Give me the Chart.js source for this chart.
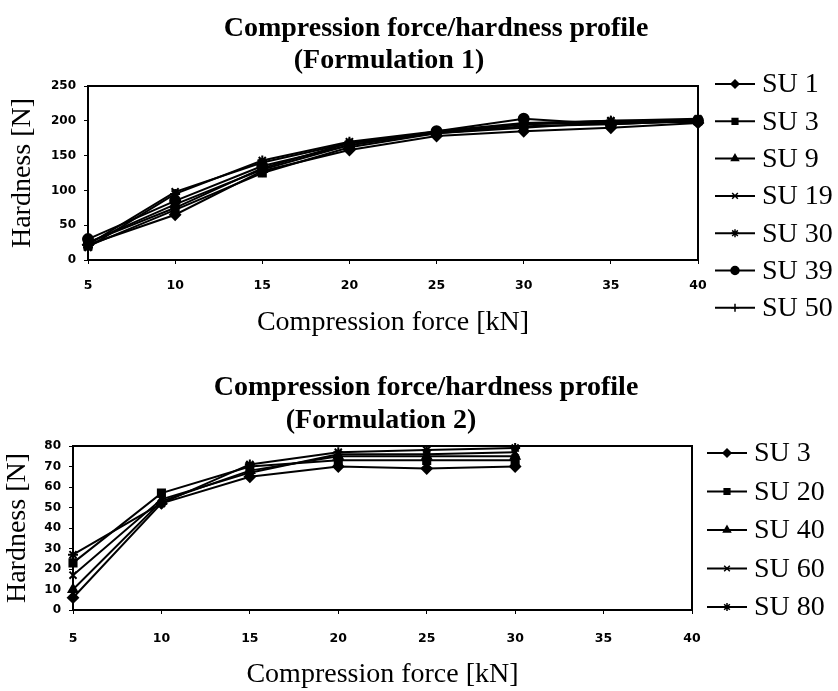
<!DOCTYPE html>
<html>
<head>
<meta charset="utf-8">
<script src="https://cdn.jsdelivr.net/npm/chart.js@4/dist/chart.umd.min.js"></script>
<style>
  body { margin: 0; background: #fff; }
  canvas { position: absolute; left: 0; }
  #form1 { top: 0; }
  #form2 { top: 345px; }
</style>
</head>
<body>
<canvas id="form1" width="838" height="345"></canvas>
<canvas id="form2" width="838" height="346"></canvas>
<script>
// compression force [kN]
var force1 = [5, 10, 15, 20, 25, 30, 35, 40];
var force2 = [5, 10, 15, 20, 25, 30];

// Formulation 1 hardness [N]
var su1  = [22, 65, 128, 158, 178, 185, 190, 197];
var su3  = [20, 72, 125, 162, 182, 192, 195, 200];
var su9  = [25, 80, 130, 165, 183, 195, 198, 202];
var su19 = [22, 98, 140, 168, 183, 195, 200, 200];
var su30 = [18, 95, 143, 170, 185, 197, 200, 203];
var su39 = [30, 85, 135, 165, 185, 203, 195, 200];
var su50 = [25, 75, 132, 168, 182, 190, 198, 198];

// Formulation 2 hardness [N]
var f2su3  = [6, 52, 65, 70, 69, 70];
var f2su20 = [23, 57, 70, 73, 73, 73];
var f2su40 = [10, 53, 68, 75, 75, 75];
var f2su60 = [17, 54, 67, 76, 76, 77];
var f2su80 = [27, 52, 71, 77, 78, 79];

var names1 = ['SU 1', 'SU 3', 'SU 9', 'SU 19', 'SU 30', 'SU 39', 'SU 50'];
var names2 = ['SU 3', 'SU 20', 'SU 40', 'SU 60', 'SU 80'];
var marks1 = ['rectRot', 'rect', 'triangle', 'crossRot', 'star', 'circle', 'cross'];
var marks2 = ['rectRot', 'rect', 'triangle', 'crossRot', 'star'];

var serif = '"Liberation Serif", "Times New Roman", serif';
var sans = '"DejaVu Sans", Arial, sans-serif';

function series(xs, ys) {
  return ys.map(function(v, i) { return {x: xs[i], y: v}; });
}

function makeSets(xs, rows, names, marks) {
  return rows.map(function(r, i) {
    return {
      label: names[i],
      data: series(xs, r),
      borderColor: '#000',
      backgroundColor: '#000',
      borderWidth: 2,
      pointStyle: marks[i],
      pointRadius: 5,
      pointBorderWidth: 2,
      clip: 10
    };
  });
}

// box round the plot, titles and the Excel-like legend
var frame = {
  id: 'frame',
  afterDraw: function(chart, args, opts) {
    var ctx = chart.ctx, a = chart.chartArea;
    ctx.save();
    ctx.strokeStyle = '#000';
    ctx.lineWidth = 2;
    ctx.strokeRect(a.left, a.top, a.right - a.left, a.bottom - a.top);

    ctx.fillStyle = '#000';
    ctx.font = 'bold 28px ' + serif;
    ctx.textAlign = 'center';
    ctx.textBaseline = 'middle';
    ctx.fillText('Compression force/hardness profile', opts.x1, opts.t1);
    ctx.fillText(opts.sub, opts.x2, opts.t2);

    ctx.font = '28px ' + serif;
    ctx.textAlign = 'left';
    chart.data.datasets.forEach(function(ds, i) {
      var y = opts.ly + i * opts.gap;
      ctx.lineWidth = 2;
      ctx.beginPath();
      ctx.moveTo(opts.lx, y);
      ctx.lineTo(opts.lx + 40, y);
      ctx.stroke();
      ctx.lineWidth = 1.5;
      Chart.helpers.drawPoint(ctx, {pointStyle: ds.pointStyle, radius: 4, rotation: 0, borderWidth: 1.5}, opts.lx + 20, y);
      ctx.fillText(ds.label, opts.lx + 47, y + 1);
    });
    ctx.restore();
  }
};

function axes(ymax, ystep, yw, xh, ytpad, xtpad, xtitlepad) {
  return {
    x: {
      type: 'linear', min: 5, max: 40,
      ticks: { stepSize: 5, color: '#000', font: {family: sans, size: 12.5, weight: 'bold'}, padding: xtpad, maxRotation: 0 },
      grid: { display: true, drawOnChartArea: false, drawTicks: true, tickLength: 4, color: '#000' },
      border: { color: '#000', width: 2 },
      title: { display: true, text: 'Compression force [kN]', color: '#000', font: {family: serif, size: 28}, padding: {top: 0, bottom: xtitlepad} },
      afterFit: function(s) { s.height = xh; }
    },
    y: {
      min: 0, max: ymax,
      ticks: { stepSize: ystep, color: '#000', font: {family: sans, size: 12, weight: 'bold'}, padding: 8 },
      grid: { display: true, drawOnChartArea: false, drawTicks: true, tickLength: 4, color: '#000' },
      border: { color: '#000', width: 2 },
      title: { display: true, text: 'Hardness [N]', color: '#000', font: {family: serif, size: 28}, padding: {top: ytpad, bottom: 0} },
      afterFit: function(s) { s.width = yw; }
    }
  };
}

function makeChart(id, sets, pad, sc, fr) {
  return new Chart(document.getElementById(id), {
    type: 'line',
    data: { datasets: sets },
    options: {
      responsive: false,
      animation: false,
      devicePixelRatio: 1,
      layout: { padding: pad },
      plugins: { legend: { display: false }, title: { display: false }, tooltip: { enabled: false }, frame: fr },
      scales: sc
    },
    plugins: [frame]
  });
}

makeChart('form1',
  makeSets(force1, [su1, su3, su9, su19, su30, su39, su50], names1, marks1),
  {left: 0, top: 86, right: 140, bottom: 0},
  axes(250, 50, 88, 85, 6, 14, 6),
  {sub: '(Formulation 1)', x1: 436, x2: 389, t1: 29, t2: 61, lx: 715, ly: 84, gap: 37.3});

makeChart('form2',
  makeSets(force2, [f2su3, f2su20, f2su40, f2su60, f2su80], names2, marks2),
  {left: 0, top: 101, right: 146, bottom: 0},
  axes(80, 10, 73, 81, 1, 17, 0),
  {sub: '(Formulation 2)', x1: 426, x2: 381, t1: 43, t2: 76, lx: 707, ly: 108, gap: 38.5});
</script>
</body>
</html>
